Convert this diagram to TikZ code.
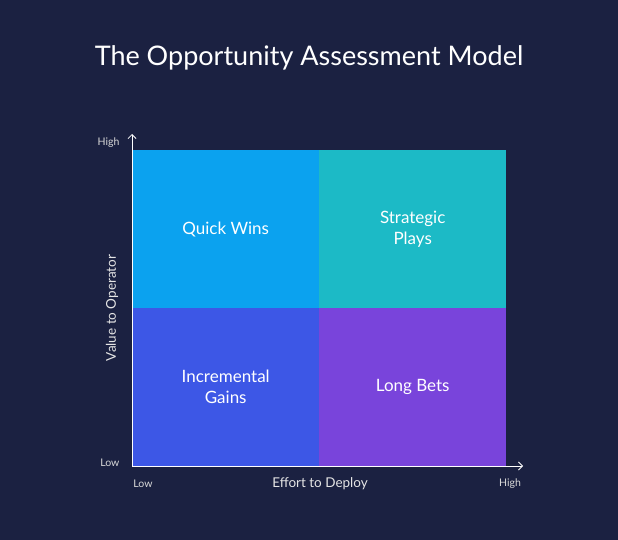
\documentclass[tikz,border=0pt]{standalone}
\usepackage{fontspec}
\setmainfont{Lato}
\usetikzlibrary{arrows.meta}
\begin{document}
\begin{tikzpicture}[x=1pt,y=-1pt,
  quad/.style={draw=none,minimum width=187pt,minimum height=158pt,inner sep=0pt,anchor=north west},
  qlab/.style={text=white,font=\fontsize{17}{21}\selectfont,align=center},
  small/.style={text=white!85!black,font=\fontsize{10.5}{12}\selectfont},
  axt/.style={text=white!90!black,font=\fontsize{13.5}{16}\selectfont}]
\definecolor{bg}{HTML}{1B2141}
\definecolor{qw}{HTML}{0BA2EF}
\definecolor{sp}{HTML}{1CBAC6}
\definecolor{ig}{HTML}{3D57E6}
\definecolor{lb}{HTML}{7944DB}
\fill[bg] (0,0) rectangle (618,540);
\useasboundingbox (0,0) rectangle (618,540);
\node[text=white,font=\fontsize{27}{32}\selectfont] (title) at (309,58) {The Opportunity Assessment Model};
\node[quad,fill=qw] (q1) at (132,150) {};
\node[quad,fill=sp] (q2) at (319,150) {};
\node[quad,fill=ig] (q3) at (132,308) {};
\node[quad,fill=lb] (q4) at (319,308) {};
\node[qlab] at (q1.center) {Quick Wins};
\node[qlab] at (q2.center) {Strategic\\Plays};
\node[qlab] at (q3.center) {Incremental\\Gains};
\node[qlab] at (q4.center) {Long Bets};
\coordinate (o) at (132,466);
\coordinate (yt) at (132,134);
\coordinate (xt) at (523,466);
\draw[white,line width=0.8pt,-{Straight Barb[length=4pt]}] (o) -- (yt);
\draw[white,line width=0.8pt,-{Straight Barb[length=4pt]}] (o) -- (xt);
\node[small,anchor=east] (yh) at (123,143) {High};
\node[small,anchor=east] (yl) at (123,463) {Low};
\node[small] (xl) at (143,484) {Low};
\node[small] (xh) at (510,484) {High};
\node[axt] (xa) at (320,484) {Effort to Deploy};
\node[axt,rotate=90] (ya) at (112,308) {Value to Operator};
\end{tikzpicture}
\end{document}
